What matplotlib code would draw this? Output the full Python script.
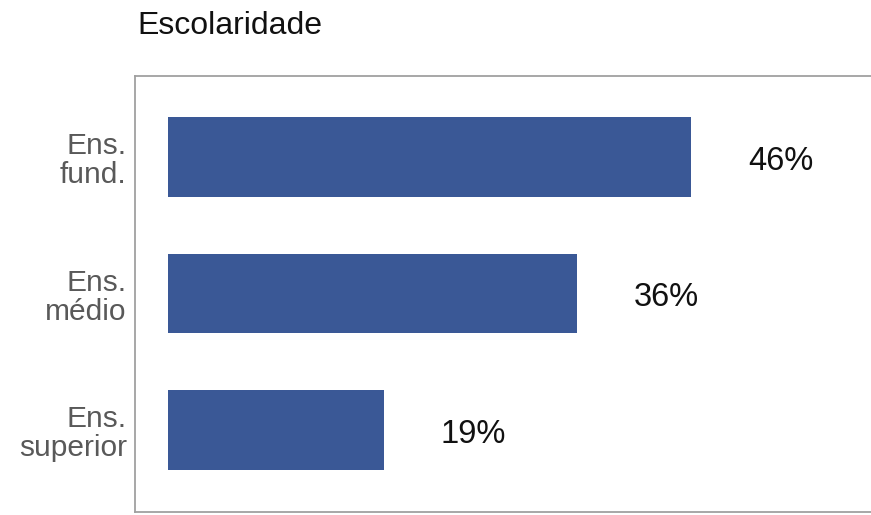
import matplotlib
matplotlib.use("Agg")
import matplotlib.pyplot as plt

categories = ["Ens.\nfund.", "Ens.\nmédio", "Ens.\nsuperior"]
values = [46, 36, 19]
value_labels = ["46%", "36%", "19%"]
title = "Escolaridade"

plt.rcParams['font.family'] = ['Liberation Sans', 'DejaVu Sans']

fig = plt.figure(figsize=(8.71, 5.15), dpi=100)
ax = fig.add_axes([135/871, 1 - 512/515, 1 - 135/871 + 0.002, (512 - 76)/515])

ypos = list(range(len(categories)))
ax.barh(ypos, values, height=0.585, color="#3A5896")
for y, v, lab in zip(ypos, values, value_labels):
    ax.annotate(lab, xy=(v, y), xytext=(41, -3), textcoords='offset points',
                ha='left', va='center', fontsize=23.5, color='#111111')

ax.set_xlim(-2.9, 62)
ax.set_ylim(2.6, -0.593)
ax.set_yticks(ypos)
ax.set_yticklabels(categories, fontsize=21.5, color='#595959', linespacing=1.05)
ax.tick_params(axis='y', length=0, pad=6)
ax.set_xticks([])
for s in ax.spines.values():
    s.set_color('#A0A0A0')
    s.set_linewidth(1.3)

fig.text(137/871, 1 - 34/515, title, fontsize=23, color='#111111', ha='left', va='baseline')

fig.savefig("out.png", dpi=100)
